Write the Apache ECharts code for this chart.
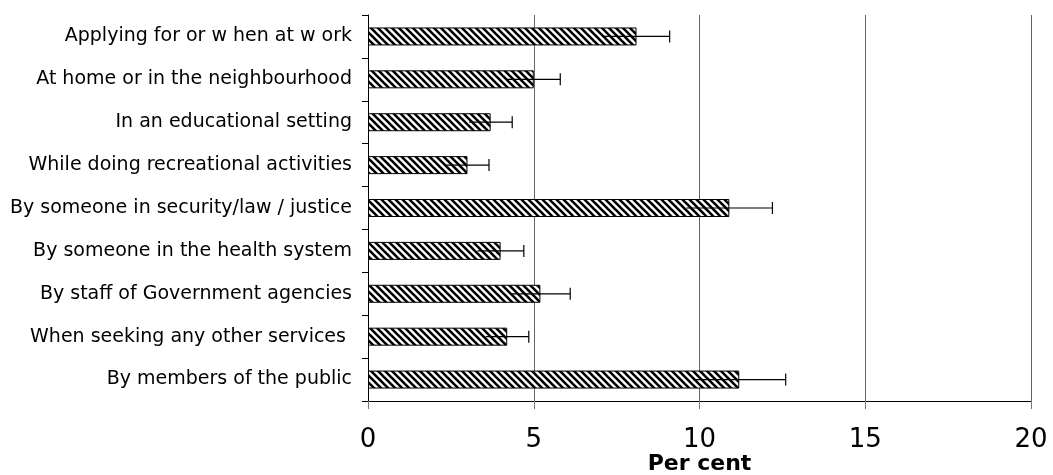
<!DOCTYPE html>
<html>
<head>
<meta charset="utf-8">
<script src="https://cdn.jsdelivr.net/npm/echarts@6/dist/echarts.min.js"></script>
<style>
  html, body { margin: 0; padding: 0; background: #ffffff; overflow: hidden; }
  #chart { width: 1053px; height: 475px; }
</style>
</head>
<body>
<div id="chart"></div>
<script>
// Settings where discrimination was experienced
const categories = [
  'Applying for or w hen at w ork',
  'At home or in the neighbourhood',
  'In an educational setting',
  'While doing recreational activities',
  'By someone in security/law / justice',
  'By someone in the health system',
  'By staff of Government agencies',
  'When seeking any other services ',
  'By members of the public'
];
// Per cent of respondents
const percentValues = [8.1, 5.0, 3.7, 3.0, 10.9, 4.0, 5.2, 4.2, 11.2];
// Half-width of the confidence interval
const errorMargins = [1.0, 0.8, 0.65, 0.65, 1.3, 0.7, 0.9, 0.65, 1.4];
const xTickValues = [0, 5, 10, 15, 20];

const FONT = '"DejaVu Sans", "Liberation Sans", Arial, sans-serif';

// Diagonal hatch fill for the bars
function makeHatch() {
  const size = 7;
  const c = document.createElement('canvas');
  c.width = size; c.height = size;
  const ctx = c.getContext('2d');
  ctx.fillStyle = '#ffffff';
  ctx.fillRect(0, 0, size, size);
  ctx.strokeStyle = '#000000';
  ctx.lineWidth = 2.6;
  for (let k = -1; k <= 1; k++) {
    ctx.beginPath();
    ctx.moveTo(k * size - 1, -1);
    ctx.lineTo(k * size + size + 1, size + 1);
    ctx.stroke();
  }
  return c;
}

const errorData = percentValues.map((v, i) => [i, v - errorMargins[i], v + errorMargins[i]]);

const chart = echarts.init(document.getElementById('chart'), null, { renderer: 'canvas' });

chart.setOption({
  animation: false,
  backgroundColor: '#ffffff',
  grid: { left: 368, right: 22, top: 15, bottom: 74, containLabel: false, outerBoundsMode: 'none' },
  xAxis: {
    type: 'value',
    min: 0,
    max: 20,
    interval: 5,
    name: 'Per cent',
    nameLocation: 'middle',
    nameGap: 52,
    nameMoveOverlap: false,
    nameTextStyle: { fontFamily: FONT, fontSize: 22, fontWeight: 'bold', color: '#000' },
    axisLine: { show: true, onZero: false, lineStyle: { color: '#000', width: 1 } },
    axisTick: { show: true, length: 8, lineStyle: { color: '#777', width: 1 } },
    axisLabel: {
      fontFamily: FONT, fontSize: 26, color: '#000', margin: 26,
      formatter: v => xTickValues.includes(v) ? String(v) : ''
    },
    splitLine: { show: true, lineStyle: { color: '#666', width: 1 } }
  },
  yAxis: {
    type: 'category',
    data: categories,
    inverse: true,
    axisLine: { show: true, lineStyle: { color: '#000', width: 1 } },
    axisTick: { show: true, length: 6, lineStyle: { color: '#000', width: 1 } },
    axisLabel: { fontFamily: FONT, fontSize: 19, color: '#000', margin: 16 },
    splitLine: { show: false }
  },
  series: [
    {
      type: 'bar',
      data: percentValues,
      barWidth: 18,
      itemStyle: {
        color: { image: makeHatch(), repeat: 'repeat' },
        borderColor: '#000',
        borderWidth: 1
      },
      z: 2
    },
    {
      type: 'custom',
      data: errorData,
      z: 5,
      renderItem: function (params, api) {
        const cat = api.value(0);
        const lo = api.coord([api.value(1), cat]);
        const hi = api.coord([api.value(2), cat]);
        const capHalf = 6;
        const style = { stroke: '#000', lineWidth: 1.2 };
        return {
          type: 'group',
          children: [
            { type: 'line', shape: { x1: lo[0], y1: lo[1], x2: hi[0], y2: hi[1] }, style: style },
            { type: 'line', shape: { x1: hi[0], y1: hi[1] - capHalf, x2: hi[0], y2: hi[1] + capHalf }, style: style }
          ]
        };
      },
      encode: { x: [1, 2], y: 0 }
    }
  ]
});
</script>
</body>
</html>
